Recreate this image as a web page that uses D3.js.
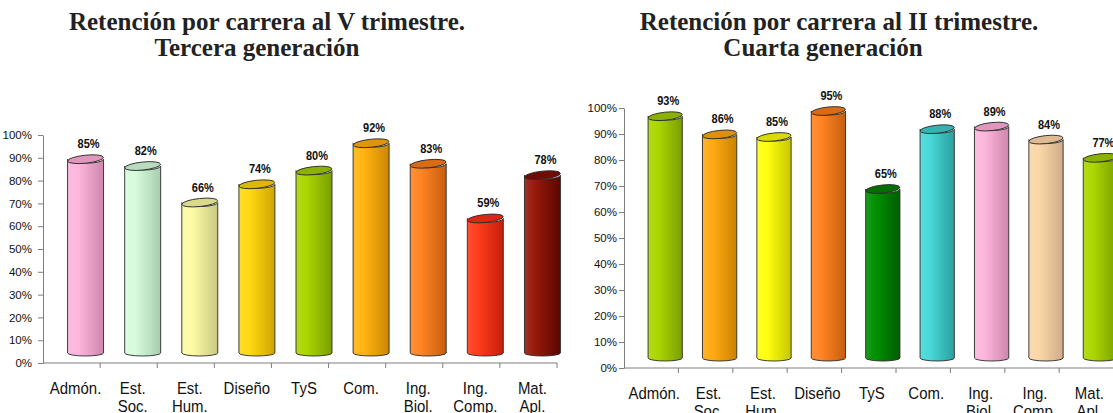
<!DOCTYPE html>
<html>
<head>
<meta charset="utf-8">
<script src="https://cdn.jsdelivr.net/npm/d3@7"></script>
<style>
  body { margin: 0; background: #fff; }
  svg { display: block; font-family: "Liberation Sans", Arial, sans-serif; }
  .axis path, .axis line { stroke: #7f7f7f; }
  .axis text { font-size: 11.5px; fill: #111; }
  .title { font-family: "Liberation Serif", "Times New Roman", serif; font-weight: bold; font-size: 25px; fill: #222; }
</style>
</head>
<body>
<div id="chart"></div>
<script>
const w = 1113, h = 413;

const categories = ["Admón.", "Est.\nSoc.", "Est.\nHum.", "Diseño", "TyS", "Com.", "Ing.\nBiol.", "Ing.\nComp.", "Mat.\nApl."];
const tercera = [0.85, 0.82, 0.66, 0.74, 0.80, 0.92, 0.83, 0.59, 0.78];
const cuarta = [0.93, 0.86, 0.85, 0.95, 0.65, 0.88, 0.89, 0.84, 0.77];
const yTicks = [0, 0.1, 0.2, 0.3, 0.4, 0.5, 0.6, 0.7, 0.8, 0.9, 1];

// light / dark ends of each cylinder
const coloursL = [["#fdb6dc","#cf86ad"],["#d8fadd","#a6cdae"],["#fbfba6","#c8c883"],["#ffd912","#cfa400"],
                  ["#acd600","#7a9e00"],["#ffb412","#cc8600"],["#ff8424","#c65e0e"],["#ff3c1c","#c41e0c"],["#961a0a","#5a0600"]];
const coloursR = [["#acd600","#7a9e00"],["#ffaa12","#cc8200"],["#ffff10","#c6c600"],["#ff8424","#c65e0e"],
                  ["#009000","#005c00"],["#48d8d8","#2c9e9e"],["#fdb6dc","#cf86ad"],["#fbd6a8","#cfac88"],["#acd600","#7a9e00"]];

const svg = d3.select("#chart").append("svg")
  .attr("width", w).attr("height", h)
  .attr("viewBox", "0 0 " + w + " " + h);
const defs = svg.append("defs");

function panel(opt) {
  const x = d3.scaleBand().domain(categories).range(opt.xr);
  const y = d3.scaleLinear().domain([0, 1]).range(opt.yr);
  const g = svg.append("g");
  const bw = x.bandwidth();
  const dx = 14, dy = 10;            // depth shift of the cylinders
  const cw = bw * 0.63, ry = 4, rb = 3;

  // titles
  opt.title.forEach((t, i) => {
    g.append("text").attr("class", "title").attr("text-anchor", "middle")
      .attr("x", t.x).attr("y", 30 + i * 26).text(t.s);
  });

  // axes
  g.append("g").attr("class", "axis")
    .attr("transform", "translate(" + opt.xr[0] + ",0)")
    .call(d3.axisLeft(y).tickValues(yTicks).tickSize(5).tickSizeOuter(0).tickPadding(opt.pad).tickFormat(d3.format(".0%")));
  const xa = g.append("g").attr("class", "axis")
    .attr("transform", "translate(0," + y(0) + ")");
  xa.append("line").attr("x1", opt.xr[0]).attr("x2", opt.xr[1]);
  xa.selectAll("line.t").data(categories).enter().append("line").attr("class", "t")
    .attr("x1", d => x(d) + bw).attr("x2", d => x(d) + bw).attr("y2", 5);

  // category labels
  const lab = g.append("g").selectAll("text").data(categories).enter().append("text")
    .attr("text-anchor", "middle").style("font-size", "17px").attr("fill", "#111")
    .attr("transform", d => "translate(" + (x(d) + bw / 2 + opt.lx) + "," + (y(0) + 31) + ") scale(0.88,1)");
  lab.selectAll("tspan").data(d => d.split("\n")).enter().append("tspan")
    .attr("x", 0).attr("y", (d, i) => i * 18).text(d => d);

  // cylinders
  opt.values.forEach((v, i) => {
    const c = categories[i];
    const cx = x(c) + bw / 2 + dx;
    const x0 = cx - cw / 2, x1 = cx + cw / 2;
    const yt = y(v) - dy, yb = y(0) - dy;
    const col = opt.colours[i];
    const id = opt.id + i;
    const gr = defs.append("linearGradient").attr("id", id);
    gr.append("stop").attr("offset", 0).attr("stop-color", d3.interpolateRgb(col[0], "#fff")(0.1));
    gr.append("stop").attr("offset", 0.3).attr("stop-color", col[0]);
    gr.append("stop").attr("offset", 1).attr("stop-color", col[1]);
    g.append("path")
      .attr("d", "M" + x0 + "," + yt + " L" + x0 + "," + yb +
        " A" + cw / 2 + "," + rb + " 0 0 0 " + x1 + "," + yb +
        " L" + x1 + "," + yt + " A" + cw / 2 + "," + ry + " 0 0 1 " + x0 + "," + yt + " Z")
      .attr("fill", "url(#" + id + ")").attr("stroke", "#2a2a2a").attr("stroke-width", 0.9);
    g.append("ellipse")
      .attr("cx", cx).attr("cy", yt).attr("rx", cw / 2).attr("ry", ry)
      .attr("transform", "rotate(-6," + cx + "," + yt + ")")
      .attr("fill", d3.interpolateRgb(col[0], col[1])(0.65))
      .attr("stroke", "#2a2a2a").attr("stroke-width", 0.9);
    g.append("text").attr("text-anchor", "middle")
      .attr("transform", "translate(" + (cx + 3) + "," + (yt - 11) + ") scale(0.88,1)")
      .style("font-size", "12.5px").style("font-weight", "bold").attr("fill", "#111")
      .text(d3.format(".0%")(v));
  });
}

panel({ xr: [43, 557], yr: [363, 135], values: tercera, colours: coloursL, id: "gl", pad: 6, lx: 4,
  title: [{ x: 267, s: "Retención por carrera al V trimestre." }, { x: 257, s: "Tercera generación" }] });
panel({ xr: [624, 1113.6], yr: [368, 108], values: cuarta, colours: coloursR, id: "gr", pad: 2, lx: 3,
  title: [{ x: 839, s: "Retención por carrera al II trimestre." }, { x: 823, s: "Cuarta generación" }] });
</script>
</body>
</html>
